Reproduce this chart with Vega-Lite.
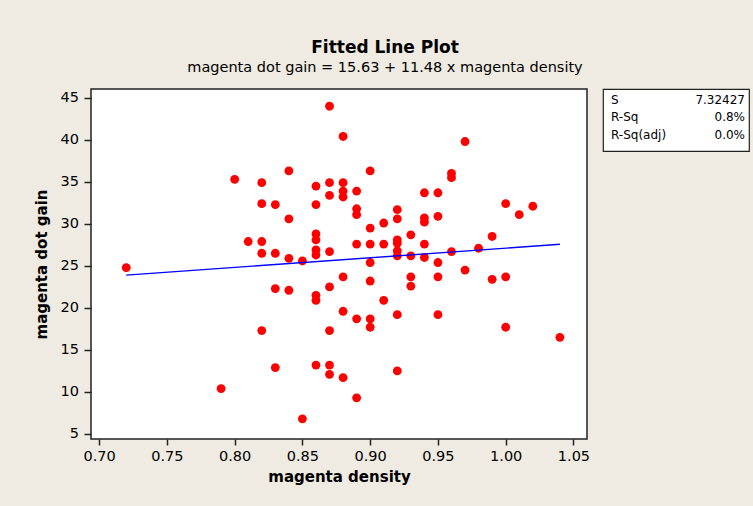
{
  "$schema": "https://vega.github.io/schema/vega-lite/v6.json",
  "autosize": {"type": "none"},
  "padding": {"left": 91, "top": 89, "right": 662, "bottom": 417},
  "background": "#EFEBE2",
  "bounds": "flush",
  "spacing": 16,
  "config": {
    "font": "DejaVu Sans",
    "axis": {
      "labelColor": "black",
      "titleColor": "black",
      "tickColor": "#222222",
      "tickWidth": 1.5,
      "domain": false,
      "grid": false,
      "labelFont": "DejaVu Sans",
      "titleFont": "DejaVu Sans"
    }
  },
  "datasets": {
    "points": [
      {"density": 0.72, "gain": 24.8},
      {"density": 0.79, "gain": 10.4},
      {"density": 0.80, "gain": 35.3},
      {"density": 0.81, "gain": 27.9},
      {"density": 0.82, "gain": 34.9},
      {"density": 0.82, "gain": 32.4},
      {"density": 0.82, "gain": 27.9},
      {"density": 0.82, "gain": 26.5},
      {"density": 0.82, "gain": 17.3},
      {"density": 0.83, "gain": 32.3},
      {"density": 0.83, "gain": 26.5},
      {"density": 0.83, "gain": 22.3},
      {"density": 0.83, "gain": 12.9},
      {"density": 0.84, "gain": 36.3},
      {"density": 0.84, "gain": 30.6},
      {"density": 0.84, "gain": 25.9},
      {"density": 0.84, "gain": 22.1},
      {"density": 0.85, "gain": 25.6},
      {"density": 0.85, "gain": 6.8},
      {"density": 0.86, "gain": 34.5},
      {"density": 0.86, "gain": 32.3},
      {"density": 0.86, "gain": 28.8},
      {"density": 0.86, "gain": 28.1},
      {"density": 0.86, "gain": 26.9},
      {"density": 0.86, "gain": 26.3},
      {"density": 0.86, "gain": 21.5},
      {"density": 0.86, "gain": 20.9},
      {"density": 0.86, "gain": 13.2},
      {"density": 0.87, "gain": 44.0},
      {"density": 0.87, "gain": 34.9},
      {"density": 0.87, "gain": 33.4},
      {"density": 0.87, "gain": 26.7},
      {"density": 0.87, "gain": 22.5},
      {"density": 0.87, "gain": 17.3},
      {"density": 0.87, "gain": 13.2},
      {"density": 0.87, "gain": 12.1},
      {"density": 0.88, "gain": 40.4},
      {"density": 0.88, "gain": 34.9},
      {"density": 0.88, "gain": 33.9},
      {"density": 0.88, "gain": 33.2},
      {"density": 0.88, "gain": 23.7},
      {"density": 0.88, "gain": 19.6},
      {"density": 0.88, "gain": 11.7},
      {"density": 0.89, "gain": 33.9},
      {"density": 0.89, "gain": 31.8},
      {"density": 0.89, "gain": 31.1},
      {"density": 0.89, "gain": 27.6},
      {"density": 0.89, "gain": 18.7},
      {"density": 0.89, "gain": 9.3},
      {"density": 0.90, "gain": 36.3},
      {"density": 0.90, "gain": 29.5},
      {"density": 0.90, "gain": 27.6},
      {"density": 0.90, "gain": 25.4},
      {"density": 0.90, "gain": 23.2},
      {"density": 0.90, "gain": 18.7},
      {"density": 0.90, "gain": 17.7},
      {"density": 0.91, "gain": 30.1},
      {"density": 0.91, "gain": 27.6},
      {"density": 0.91, "gain": 20.9},
      {"density": 0.92, "gain": 31.7},
      {"density": 0.92, "gain": 30.6},
      {"density": 0.92, "gain": 28.1},
      {"density": 0.92, "gain": 27.7},
      {"density": 0.92, "gain": 26.8},
      {"density": 0.92, "gain": 26.2},
      {"density": 0.92, "gain": 19.2},
      {"density": 0.92, "gain": 12.5},
      {"density": 0.93, "gain": 28.7},
      {"density": 0.93, "gain": 26.2},
      {"density": 0.93, "gain": 23.7},
      {"density": 0.93, "gain": 22.6},
      {"density": 0.94, "gain": 33.7},
      {"density": 0.94, "gain": 30.7},
      {"density": 0.94, "gain": 30.2},
      {"density": 0.94, "gain": 27.6},
      {"density": 0.94, "gain": 26.0},
      {"density": 0.95, "gain": 33.7},
      {"density": 0.95, "gain": 30.9},
      {"density": 0.95, "gain": 25.4},
      {"density": 0.95, "gain": 23.7},
      {"density": 0.95, "gain": 19.2},
      {"density": 0.96, "gain": 36.0},
      {"density": 0.96, "gain": 35.5},
      {"density": 0.96, "gain": 26.7},
      {"density": 0.97, "gain": 39.8},
      {"density": 0.97, "gain": 24.5},
      {"density": 0.98, "gain": 27.1},
      {"density": 0.99, "gain": 28.5},
      {"density": 0.99, "gain": 23.4},
      {"density": 1.00, "gain": 32.4},
      {"density": 1.00, "gain": 23.7},
      {"density": 1.00, "gain": 17.7},
      {"density": 1.01, "gain": 31.1},
      {"density": 1.02, "gain": 32.1},
      {"density": 1.04, "gain": 16.5}
    ],
    "fit": [
      {"density": 0.72, "gain": 23.9},
      {"density": 1.04, "gain": 27.57}
    ],
    "stats": [
      {"stat": "S", "value": "7.32427"},
      {"stat": "R-Sq", "value": "0.8%"},
      {"stat": "R-Sq(adj)", "value": "0.0%"}
    ]
  },
  "hconcat": [
    {
      "width": 496,
      "height": 350,
      "view": {"fill": "white", "stroke": "#222222", "strokeWidth": 1.5},
      "title": {
        "text": "Fitted Line Plot",
        "subtitle": "magenta dot gain =  15.63 + 11.48 x magenta density",
        "anchor": "middle",
        "dx": 46,
        "offset": 14,
        "font": "DejaVu Sans",
        "fontSize": 17,
        "fontWeight": "bold",
        "color": "black",
        "subtitleFont": "DejaVu Sans",
        "subtitleFontSize": 14.5,
        "subtitleColor": "black",
        "subtitlePadding": 4
      },
      "layer": [
        {
          "data": {"name": "points"},
          "mark": {"type": "circle", "color": "#FF0000", "opacity": 1, "size": 78},
          "encoding": {
            "x": {
              "field": "density",
              "type": "quantitative",
              "scale": {"domain": [0.694, 1.06], "nice": false, "zero": false},
              "axis": {
                "values": [0.70, 0.75, 0.80, 0.85, 0.90, 0.95, 1.00, 1.05],
                "format": ".2f",
                "tickSize": 6,
                "labelPadding": 4,
                "labelFontSize": 14.5,
                "title": "magenta density",
                "titleFontSize": 15,
                "titleFontWeight": "bold",
                "titlePadding": 7
              }
            },
            "y": {
              "field": "gain",
              "type": "quantitative",
              "scale": {"domain": [4.4, 46.05], "nice": false, "zero": false},
              "axis": {
                "values": [5, 10, 15, 20, 25, 30, 35, 40, 45],
                "tickSize": 7,
                "labelPadding": 5.5,
                "labelFontSize": 14.5,
                "title": "magenta dot gain",
                "titleFontSize": 15,
                "titleFontWeight": "bold",
                "titlePadding": 11
              }
            }
          }
        },
        {
          "data": {"name": "fit"},
          "mark": {"type": "line", "color": "#0000FF", "strokeWidth": 1.4},
          "encoding": {
            "x": {"field": "density", "type": "quantitative"},
            "y": {"field": "gain", "type": "quantitative"}
          }
        }
      ]
    },
    {
      "width": 146,
      "height": 62,
      "view": {"fill": "white", "stroke": "#222222", "strokeWidth": 1.2},
      "data": {"name": "stats"},
      "encoding": {
        "y": {
          "field": "stat",
          "type": "nominal",
          "sort": ["S", "R-Sq", "R-Sq(adj)"],
          "scale": {"type": "point", "padding": 0.79},
          "axis": null
        }
      },
      "layer": [
        {
          "mark": {"type": "text", "align": "left", "baseline": "middle", "dx": 8, "dy": -2.7, "fontSize": 12, "font": "DejaVu Sans", "color": "black"},
          "encoding": {
            "x": {"datum": 0, "type": "quantitative", "scale": {"domain": [0, 1]}, "axis": null},
            "text": {"field": "stat"}
          }
        },
        {
          "mark": {"type": "text", "align": "right", "baseline": "middle", "dx": -4, "dy": -2.7, "fontSize": 12, "font": "DejaVu Sans", "color": "black"},
          "encoding": {
            "x": {"datum": 1, "type": "quantitative", "scale": {"domain": [0, 1]}, "axis": null},
            "text": {"field": "value"}
          }
        }
      ]
    }
  ]
}
